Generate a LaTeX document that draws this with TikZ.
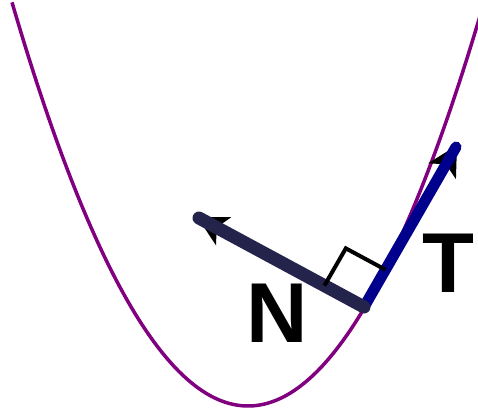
\documentclass[tikz,border=0pt]{standalone}
\usepackage{fontspec}
\setmainfont{Liberation Sans}
\usetikzlibrary{calc}
\definecolor{curvecol}{RGB}{128,0,128}
\definecolor{ncol}{RGB}{35,35,75}
\definecolor{tcol}{RGB}{0,0,140}
\tikzset{
  curve/.style={curvecol, line width=3.5pt},
  vecline/.style={line width=#1, line cap=round},
  tiphead/.style={fill=black, draw=none},
  rightmark/.style={black, line width=4pt},
  biglabel/.style={inner sep=0pt, font=\fontsize{85}{85}\selectfont\bfseries}
}
\begin{document}
\begin{tikzpicture}[x=1pt,y=-1pt]
\useasboundingbox (0,0) rectangle (478,411);
\begin{scope}
\clip (0,0) rectangle (478,411);
\draw[curve] plot[domain=12:482, samples=120, smooth] (\x, {406-0.00725*(\x-248)*(\x-248)});
\end{scope}
\coordinate (P) at (364,307);
\coordinate (Nend) at (199,218);
\coordinate (Tend) at (456,147);
% tangent arrow head
\coordinate (TB) at ($(Tend)!28pt!(P)$);
\coordinate (TI) at ($(Tend)!20pt!(P)$);
\fill[tiphead] ($(Tend)!-2pt!(P)$) -- ($(TB)!16pt!90:(P)$) -- (TI) -- ($(TB)!16pt!-90:(P)$) -- cycle;
\draw[tcol, vecline=11pt] (P) -- (Tend);
% normal arrow head
\coordinate (NB) at ($(Nend)!28pt!(P)$);
\coordinate (NI) at ($(Nend)!20pt!(P)$);
\fill[tiphead] ($(Nend)!-2pt!(P)$) -- ($(NB)!16pt!90:(P)$) -- (NI) -- ($(NB)!16pt!-90:(P)$) -- cycle;
\draw[ncol, vecline=13pt] (P) -- (Nend);
% right angle marker
\coordinate (RA) at ($(P)!45pt!(Nend)$);
\coordinate (RB) at ($(P)!43pt!(Tend)$);
\coordinate (RC) at ($(RA)+(RB)-(P)$);
\draw[rightmark] (RA) -- (RC) -- (RB);
\node[biglabel] (N) at (277,313.5) {N};
\node[biglabel] (T) at (448,263.5) {T};
\end{tikzpicture}
\end{document}
